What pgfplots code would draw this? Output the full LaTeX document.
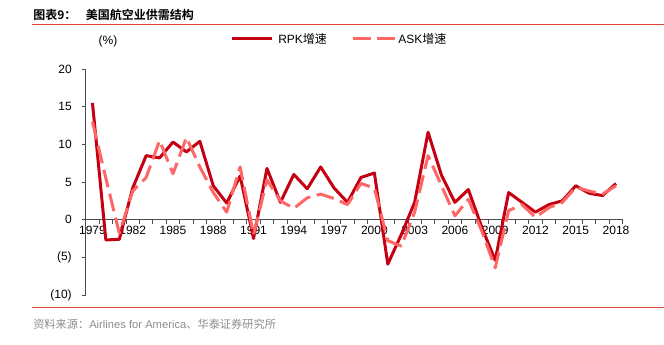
\documentclass[border=0pt]{standalone}
\usepackage{pgfplots}
\pgfplotsset{compat=1.18}
\usepackage{pgfplotstable}
\usepackage{fontspec}
\setmainfont{Liberation Sans}
\newfontfamily\cjk{Noto Sans CJK SC}
\newfontfamily\cjkb{Noto Sans CJK SC Bold}
\definecolor{rpk}{RGB}{196,0,18}
\definecolor{ask}{RGB}{255,102,102}
\definecolor{hdr}{RGB}{228,70,60}
\pgfplotstableread{
year rpk ask
1979 15.5 13.0
1980 -2.7 5.5
1981 -2.6 -1.8
1982 4.2 3.8
1983 8.5 5.6
1984 8.2 10.5
1985 10.3 6.1
1986 9.0 10.9
1987 10.4 7.0
1988 4.5 3.6
1989 2.2 1.0
1990 5.8 7.0
1991 -2.5 -2.0
1992 6.8 5.3
1993 2.3 2.5
1994 6.0 1.5
1995 4.1 2.9
1996 7.0 3.4
1997 4.2 2.8
1998 2.3 2.0
1999 5.6 4.8
2000 6.2 4.2
2001 -5.9 -2.8
2002 -2.0 -3.5
2003 2.3 1.0
2004 11.6 8.5
2005 5.9 4.5
2006 2.3 0.5
2007 4.0 2.7
2008 -1.0 -1.5
2009 -5.4 -6.4
2010 3.6 1.2
2011 2.3 2.0
2012 1.0 0.3
2013 2.0 1.6
2014 2.5 2.3
2015 4.5 4.3
2016 3.5 3.8
2017 3.2 3.4
2018 4.8 4.5
}\datatable
\begin{document}
\begin{tikzpicture}
\path[use as bounding box] (0,0) rectangle (498pt,258.75pt);
% header
\node[anchor=west,inner sep=0pt] at (24.75pt,247.5pt) {\cjkb\fontsize{9pt}{10pt}\selectfont 图表9：\hspace{0.8em}美国航空业供需结构};
\draw[hdr,line width=0.6pt] (24pt,240.75pt) -- (498pt,240.75pt);
\draw[hdr,line width=0.6pt] (24pt,28.5pt) -- (498pt,28.5pt);
\node[anchor=west,inner sep=0pt,text=black!45] at (24.75pt,15.75pt) {\fontsize{8.4pt}{9pt}\selectfont {\cjk 资料来源：}Airlines for America{\cjk 、华泰证券研究所}};
% legend
\draw[rpk,line width=2.25pt] (174pt,229.5pt) -- (204pt,229.5pt);
\node[anchor=west,inner sep=0pt] at (208.5pt,229.5pt) {\fontsize{9pt}{10pt}\selectfont RPK{\cjk 增速}};
\draw[ask,line width=2.25pt,dash pattern=on 13.5pt off 5pt] (264.5pt,229.5pt) -- (296pt,229.5pt);
\node[anchor=west,inner sep=0pt] at (298.5pt,229.5pt) {\fontsize{9pt}{10pt}\selectfont ASK{\cjk 增速}};
\node[inner sep=0pt] at (81pt,228pt) {\fontsize{9pt}{10pt}\selectfont (\%)};
\begin{axis}[
  at={(64.3pt,37.5pt)}, anchor=south west,
  scale only axis, width=402.75pt, height=169.5pt,
  xmin=1978.5, xmax=2018.5, ymin=-10, ymax=20,
  axis x line=middle, axis y line=left,
  axis line style={-, black!70, line width=0.6pt},
  tick align=outside,
  major tick length=3pt,
  tick style={black!70, line width=0.6pt},
  xtick={1978.5,1979.5,...,2018.5},
  xticklabels={},
  extra x ticks={1979,1982,1985,1988,1991,1994,1997,2000,2003,2006,2009,2012,2015,2018},
  extra x tick labels={1979,1982,1985,1988,1991,1994,1997,2000,2003,2006,2009,2012,2015,2018},
  extra x tick style={major tick length=0pt, tick label style={yshift=-1pt}},
  ytick={-10,-5,0,5,10,15,20},
  yticklabels={(10),(5),0,5,10,15,20},
  yticklabel style={xshift=-4pt},
  tick label style={font=\fontsize{9pt}{10pt}\selectfont},
  clip=false,
]
\addplot[rpk, line width=2.25pt, line join=round, no marks] table[x=year,y=rpk]{\datatable};
\addplot[ask, line width=2.25pt, line join=round, no marks, dash pattern=on 13.5pt off 5pt] table[x=year,y=ask]{\datatable};
\end{axis}
\end{tikzpicture}
\end{document}
